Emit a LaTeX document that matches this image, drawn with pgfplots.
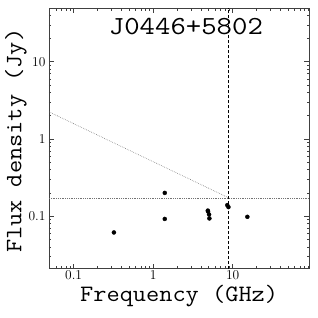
\documentclass[border=0pt]{standalone}
\usepackage{fontspec}
\usepackage{graphicx}
\usepackage{pgfplots}
\pgfplotsset{compat=1.18}
\begin{document}
\begin{tikzpicture}
\useasboundingbox (-49pt,-49.5pt) rectangle (269pt,268.5pt);
\begin{loglogaxis}[
  at={(0,0)}, anchor=south west,
  scale only axis, width=260.3pt, height=260.5pt,
  xmin=0.049, xmax=92, ymin=0.021, ymax=49.5,
  xtick={0.1,1,10}, ytick={0.1,1,10},
  xticklabels={0.1,1,10}, yticklabels={0.1,1,10},
  minor xtick={0.05,0.06,0.07,0.08,0.09,0.2,0.3,0.4,0.5,0.6,0.7,0.8,0.9,2,3,4,5,6,7,8,9,20,30,40,50,60,70,80,90},
  minor ytick={0.03,0.04,0.05,0.06,0.07,0.08,0.09,0.2,0.3,0.4,0.5,0.6,0.7,0.8,0.9,2,3,4,5,6,7,8,9,20,30,40},
  tick align=inside,
  major tick length=5pt, minor tick length=2.5pt,
  axis line style={black!75, line width=0.6pt},
  every tick/.style={black!75, line width=0.5pt},
  tick label style={font=\fontsize{13.5}{15}\selectfont},
  xticklabel style={inner sep=1pt, yshift=-1pt},
  xlabel={\scalebox{1.09}[1]{Frequency (GHz)}},
  ylabel={\scalebox{1.09}[1]{Flux density (Jy)}},
  label style={font=\fontsize{23.5}{28}\selectfont\ttfamily, inner sep=0pt},
  xlabel style={at={(axis description cs:0.5,-0.106)}, anchor=center},
  ylabel style={at={(axis description cs:-0.127,0.49)}, anchor=center},
  clip=true,
]
\addplot[black!55, line width=0.6pt, dash pattern=on 0.6pt off 1.2pt] coordinates {(0.049,2.24) (8.91,0.1726)};
\addplot[black!55, line width=0.6pt, dash pattern=on 0.6pt off 1.2pt] coordinates {(0.049,0.1726) (92,0.1726)};
\addplot[black, line width=0.6pt, dash pattern=on 3pt off 2pt] coordinates {(8.91,0.021) (8.91,49.5)};
\addplot[only marks, mark=*, mark size=2pt, black] coordinates {
(0.321,0.0615)
(1.40,0.200)
(1.40,0.092)
(4.87,0.118)
(4.90,0.115)
(5.05,0.105)
(5.10,0.0934)
(8.55,0.139)
(8.85,0.131)
(15.3,0.098)
};
\node[font=\fontsize{26}{30}\selectfont\ttfamily] at (rel axis cs:0.526,0.928) {\scalebox{1.15}[1]{J0446+5802}};
\end{loglogaxis}
\end{tikzpicture}
\end{document}
